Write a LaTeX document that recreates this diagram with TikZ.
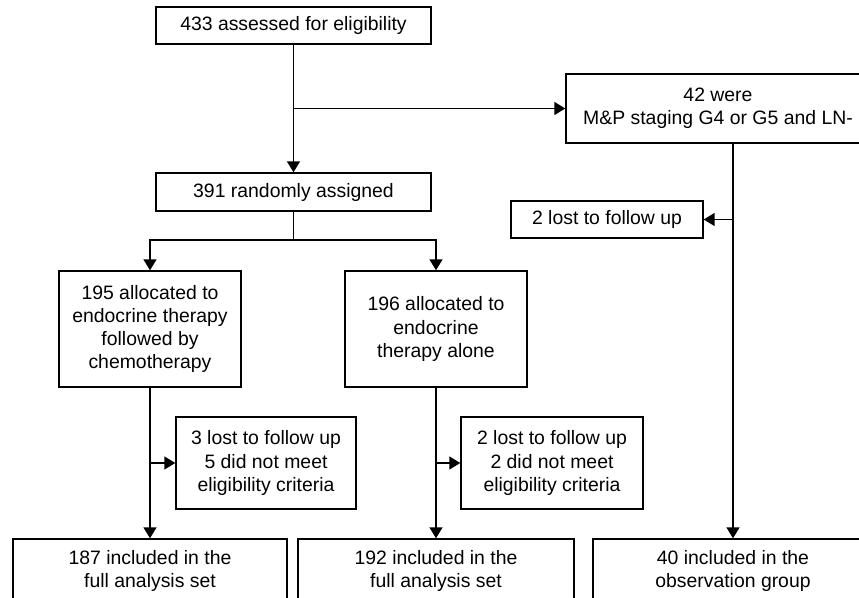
\documentclass[tikz,border=0pt]{standalone}
\usepackage{fontspec}
\setmainfont{Liberation Sans}
\usetikzlibrary{positioning, arrows.meta}
\tikzstyle{box}=[rectangle, draw=black, line width=0.7pt, align=center, inner sep=0pt, font=\fontsize{9.7}{11.65}\selectfont]
\tikzstyle{flow}=[line width=0.75pt, -{Triangle[length=5.5pt, width=6.5pt]}]
\tikzset{wh/.style 2 args={minimum width=#1*0.5pt, minimum height=#2*0.5pt}}

\begin{document}
\begin{tikzpicture}[x=0.5pt, y=-0.5pt]
            %CONSORT type flow, pixel grid with y going down
            \clip (0,0) rectangle (859,598);
            \node[box, wh={275}{37}] (elig) at (293.5,25.5) {433 assessed for eligibility};
            \node[box, wh={304}{69}] (excl) at (718,108.5) {42 were\\M\&P staging G4 or G5 and LN-};
            \node[box, wh={275}{38}] (rand) at (293.5,192) {391 randomly assigned};
            \node[box, wh={192}{37}] (lostobs) at (607,219.5) {2 lost to follow up};
            \node[box, wh={182}{116}] (armA) at (150,329) {195 allocated to\\endocrine therapy\\followed by\\chemotherapy};
            \node[box, wh={182}{116}] (armB) at (436,329) {196 allocated to\\endocrine\\therapy alone};
            \node[box, wh={180}{92}] (lostA) at (266,463) {3 lost to follow up\\5 did not meet\\eligibility criteria};
            \node[box, wh={182}{92}] (lostB) at (552,463) {2 lost to follow up\\2 did not meet\\eligibility criteria};
            \node[box, wh={274}{64}] (fasA) at (150,571) {187 included in the\\full analysis set};
            \node[box, wh={276}{64}] (fasB) at (436,571) {192 included in the\\full analysis set};
            \node[box, wh={280}{64}] (obs) at (733,571) {40 included in the\\observation group};
            \coordinate (split) at (293.5,240);
            \draw[flow] (elig) to (rand);
            \draw[flow] (elig.south |- excl.west) to (excl.west);
            \draw[flow] (obs.north |- excl.south) to (obs);
            \draw[flow] (obs.north |- lostobs.east) to (lostobs);
            \draw[line width=0.75pt] (rand) to (split);
            \draw[flow] (split) -| (armA);
            \draw[flow] (split) -| (armB);
            \draw[flow] (armA) to (fasA);
            \draw[flow] (armB) to (fasB);
            \draw[flow] (armA.south |- lostA.west) to (lostA);
            \draw[flow] (armB.south |- lostB.west) to (lostB);
        \end{tikzpicture}
\end{document}
